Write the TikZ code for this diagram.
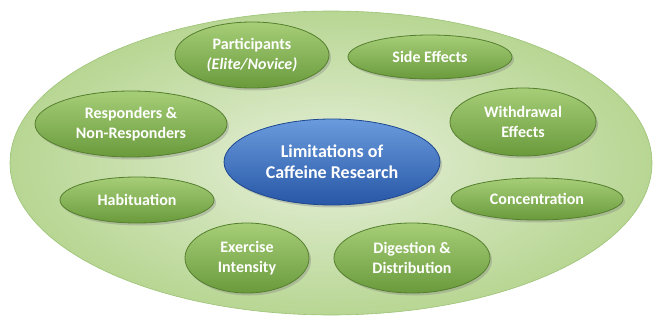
\documentclass[tikz,border=0pt]{standalone}
\usepackage{fontspec}
\setmainfont{Carlito}
\usetikzlibrary{shapes.geometric, shadows, positioning}

\definecolor{plateinner}{HTML}{E6F0DA}
\definecolor{plateouter}{HTML}{B8D693}
\definecolor{plateedge}{HTML}{9CC376}
\definecolor{topictop}{HTML}{A6CE78}
\definecolor{topicbottom}{HTML}{6A9A3C}
\definecolor{topicedge}{HTML}{557F2E}
\definecolor{coretop}{HTML}{6A9BDD}
\definecolor{corebottom}{HTML}{2757A6}
\definecolor{coreedge}{HTML}{1E4790}

\begin{document}
\begin{tikzpicture}[x=1pt,y=-1pt]

    \tikzset
    {
        plate/.style={ellipse, draw=plateedge, line width=0.6pt, inner color=plateinner, outer color=plateouter, minimum width=642pt, minimum height=304pt, inner sep=0pt},
        topic/.style={ellipse, draw=topicedge, line width=0.8pt, top color=topictop, bottom color=topicbottom, inner sep=0pt, text=white, align=center, font=\bfseries\fontsize{16}{20}\selectfont, drop shadow={shadow xshift=2pt, shadow yshift=-2.5pt, opacity=0.35}},
        core/.style={ellipse, draw=coreedge, line width=0.8pt, top color=coretop, bottom color=corebottom, inner sep=0pt, text=white, align=center, font=\bfseries\fontsize{18}{21}\selectfont, drop shadow={shadow xshift=2pt, shadow yshift=-2.5pt, opacity=0.35}}
    }

    \useasboundingbox (0,0) rectangle (658,321);

    % background plate
    \node[plate] (plate) at (331,163) {};

    \node[core, minimum width=216pt, minimum height=86pt] (limits) at (332,162) {Limitations of\\Caffeine Research};

    % the eight factors around the centre
    \node[topic, minimum width=154pt, minimum height=66pt] (participants) at (252,55) {Participants\\\textit{(Elite/Novice)}};
    \node[topic, minimum width=164pt, minimum height=44pt] (side) at (430,57) {Side Effects};
    \node[topic, minimum width=146pt, minimum height=68pt] (withdrawal) at (523,122) {Withdrawal\\Effects};
    \node[topic, minimum width=192pt, minimum height=66pt] (responders) at (131,124) {Responders \&\\Non-Responders};
    \node[topic, minimum width=154pt, minimum height=46pt] (habituation) at (137,200) {Habituation};
    \node[topic, minimum width=172pt, minimum height=42pt] (concentration) at (537,199) {Concentration};
    \node[topic, minimum width=124pt, minimum height=70pt] (exercise) at (247,258) {Exercise\\Intensity};
    \node[topic, minimum width=156pt, minimum height=70pt] (digestion) at (412,258) {Digestion \&\\Distribution};

\end{tikzpicture}
\end{document}
